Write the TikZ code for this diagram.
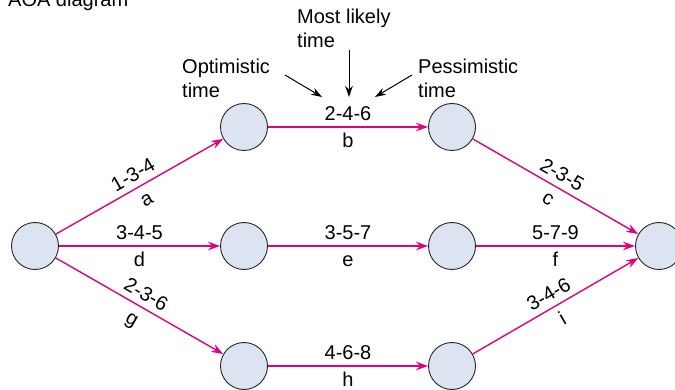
\documentclass[tikz,border=0pt]{standalone}
\usepackage{fontspec}
\setmainfont{Liberation Sans}
\usetikzlibrary{arrows.meta}
\definecolor{actpink}{HTML}{E4007C}
\definecolor{evfill}{HTML}{DDE4F1}
\begin{document}
\begin{tikzpicture}[x=1pt,y=-1pt,
  font=\fontsize{20}{24}\selectfont,
  ev/.style={circle, draw=black!85, line width=0.9pt, fill=evfill, minimum size=47pt, inner sep=0pt},
  act/.style={draw=actpink, line width=1.4pt, -{Stealth[length=12pt,width=8.5pt]}},
  pt/.style={draw=black, line width=1pt, -{Stealth[length=11pt,width=7.5pt]}},
  lab/.style={inner sep=0pt, text height=14pt, text depth=4pt},
  up/.style={lab, midway, sloped, above=2pt},
  dn/.style={lab, midway, sloped, below=6pt},
  note/.style={inner sep=0pt, align=left, anchor=north west}]
\useasboundingbox (0,0) rectangle (675,390);
\node[anchor=base west, inner sep=0pt] (title) at (8,7) {AOA diagram};
% events
\node[ev] (n1) at (35,246) {};
\node[ev] (n2) at (244,127) {};
\node[ev] (n3) at (244,246) {};
\node[ev] (n4) at (244,366) {};
\node[ev] (n5) at (452,127) {};
\node[ev] (n6) at (452,246) {};
\node[ev] (n7) at (452,366) {};
\node[ev] (n8) at (659,246) {};
% activities
\draw[act] (n1) -- node[up]{1-3-4} node[dn]{a} (n2);
\draw[act] (n1) -- node[up]{3-4-5} node[dn]{d} (n3);
\draw[act] (n1) -- node[up]{2-3-6} node[dn]{g} (n4);
\draw[act] (n2) -- node[up] (lb) {2-4-6} node[dn]{b} (n5);
\draw[act] (n3) -- node[up]{3-5-7} node[dn]{e} (n6);
\draw[act] (n4) -- node[up]{4-6-8} node[dn]{h} (n7);
\draw[act] (n5) -- node[up]{2-3-5} node[dn]{c} (n8);
\draw[act] (n6) -- node[up]{5-7-9} node[dn]{f} (n8);
\draw[act] (n7) -- node[up]{3-4-6} node[dn]{i} (n8);
% annotations
\node[note] (opt) at (182,59) {Optimistic\\time};
\node[note] (ml) at (297,9) {Most likely\\time};
\node[note] (pes) at (418,59) {Pessimistic\\time};
\coordinate (o1) at (285,75);
\coordinate (o2) at (322,97);
\coordinate (m1) at (349,50);
\coordinate (m2) at (349,97);
\coordinate (p1) at (412,75);
\coordinate (p2) at (375,97);
\draw[pt] (o1) -- (o2);
\draw[pt] (m1) -- (m2);
\draw[pt] (p1) -- (p2);
\end{tikzpicture}
\end{document}
